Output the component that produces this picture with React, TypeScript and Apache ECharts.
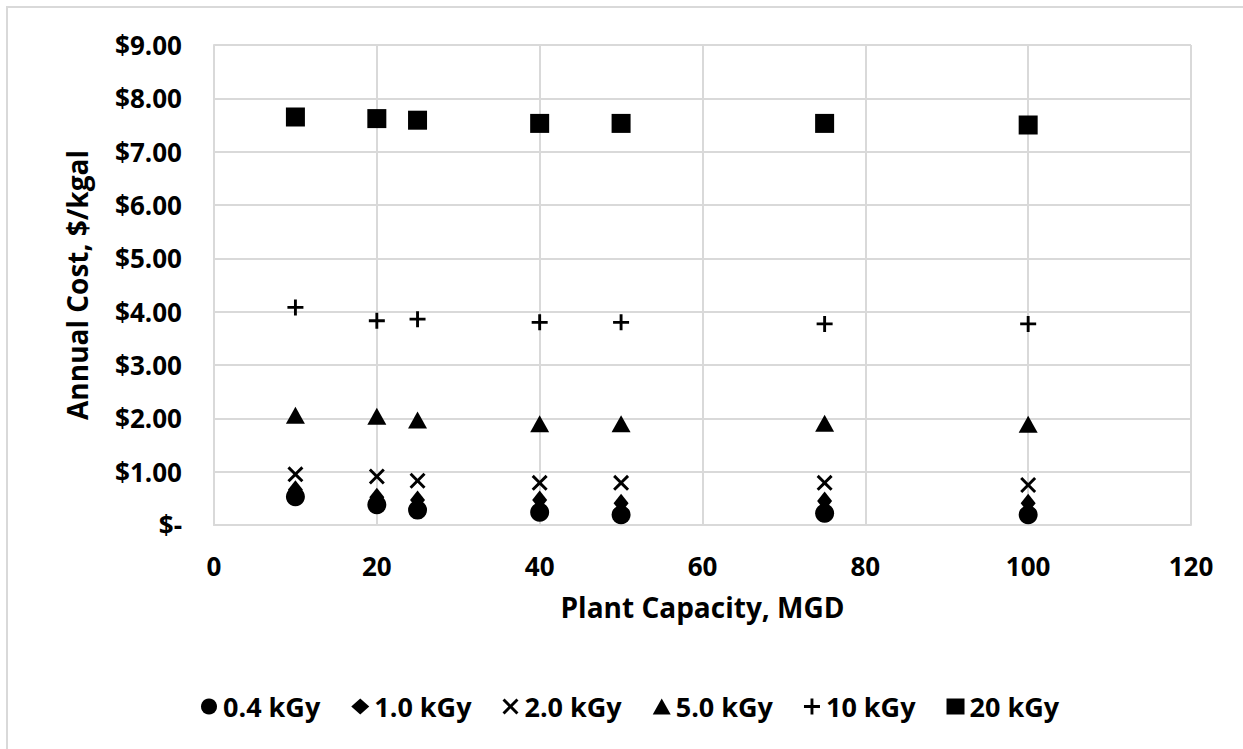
import React, { useEffect, useRef } from "react";
import * as echarts from "echarts";

const capacity = [10, 20, 25, 40, 50, 75, 100];
const seriesNames = ["0.4 kGy", "1.0 kGy", "2.0 kGy", "5.0 kGy", "10 kGy", "20 kGy"];
const cost04 = [0.53, 0.38, 0.28, 0.24, 0.19, 0.22, 0.19];
const cost10 = [0.66, 0.52, 0.47, 0.47, 0.41, 0.45, 0.41];
const cost20 = [0.95, 0.91, 0.83, 0.79, 0.79, 0.79, 0.75];
const cost50 = [2.06, 2.04, 1.97, 1.9, 1.9, 1.91, 1.89];
const cost100 = [4.08, 3.83, 3.86, 3.8, 3.8, 3.77, 3.77];
const cost200 = [7.65, 7.62, 7.59, 7.53, 7.53, 7.53, 7.5];
const allCosts = [cost04, cost10, cost20, cost50, cost100, cost200];

const X_PATH =
  "path://M0,1.3 L1.3,0 L5,3.7 L8.7,0 L10,1.3 L6.3,5 L10,8.7 L8.7,10 L5,6.3 L1.3,10 L0,8.7 L3.7,5 Z";
const PLUS_PATH = "path://M4.1,0 H5.9 V4.1 H10 V5.9 H5.9 V10 H4.1 V5.9 H0 V4.1 H4.1 Z";

const symbols: any[] = ["circle", "diamond", X_PATH, "triangle", PLUS_PATH, "rect"];
const sizes: any[] = [19, [15, 19], 16, [19, 17], 16, 19];

const FONT = "'Open Sans', Lato, sans-serif";
const GRID = "#d9d9d9";

export default function App() {
  const ref = useRef<HTMLDivElement>(null);
  useEffect(() => {
    if (!ref.current) return;
    const chart = echarts.init(ref.current, undefined, { renderer: "svg" });
    chart.setOption({
      animation: false,
      backgroundColor: "#ffffff",
      textStyle: { fontFamily: FONT },
      graphic: [
        {
          type: "rect",
          shape: { x: 7, y: 7, width: 1400, height: 900 },
          style: { fill: "none", stroke: GRID, lineWidth: 2 },
          silent: true,
        },
      ],
      grid: { left: 214, right: 52, top: 45, bottom: 224 },
      legend: {
        top: 688,
        left: 196,
        itemGap: 31,
        itemWidth: 18,
        itemHeight: 16,
        textStyle: { fontFamily: FONT, fontWeight: "bold", fontSize: 27, color: "#000" },
        data: seriesNames,
      },
      xAxis: {
        type: "value",
        min: 0,
        max: 120,
        interval: 20,
        name: "Plant Capacity, MGD",
        nameLocation: "middle",
        nameGap: 68,
        nameTextStyle: { fontFamily: FONT, fontWeight: "bold", fontSize: 28, color: "#000" },
        axisLine: { show: true, lineStyle: { color: GRID, width: 2 } },
        axisTick: { show: false },
        axisLabel: { fontFamily: FONT, fontWeight: "bold", fontSize: 26, color: "#000", margin: 28 },
        splitLine: { show: true, lineStyle: { color: GRID, width: 2 } },
      },
      yAxis: {
        type: "value",
        min: 0,
        max: 9,
        interval: 1,
        name: "Annual Cost, $/kgal",
        nameLocation: "middle",
        nameGap: 123,
        nameTextStyle: { fontFamily: FONT, fontWeight: "bold", fontSize: 28, color: "#000" },
        axisLine: { show: true, lineStyle: { color: GRID, width: 2 } },
        axisTick: { show: false },
        axisLabel: {
          fontFamily: FONT,
          fontWeight: "bold",
          fontSize: 26,
          color: "#000",
          margin: 32,
          formatter: (v: number) => (v === 0 ? "$-" : "$" + v.toFixed(2)),
        },
        splitLine: { show: true, lineStyle: { color: GRID, width: 2 } },
      },
      series: seriesNames.map((name, i) => ({
        name,
        type: "scatter",
        symbol: symbols[i],
        symbolSize: sizes[i],
        itemStyle: { color: "#000", opacity: 1 },
        emphasis: { disabled: true },
        data: capacity.map((c, j) => [c, allCosts[i][j]]),
      })),
    });
    return () => chart.dispose();
  }, []);
  return (
    <div
      ref={ref}
      style={{ position: "fixed", left: 0, top: 0, width: 1243, height: 749, background: "#fff" }}
    />
  );
}
